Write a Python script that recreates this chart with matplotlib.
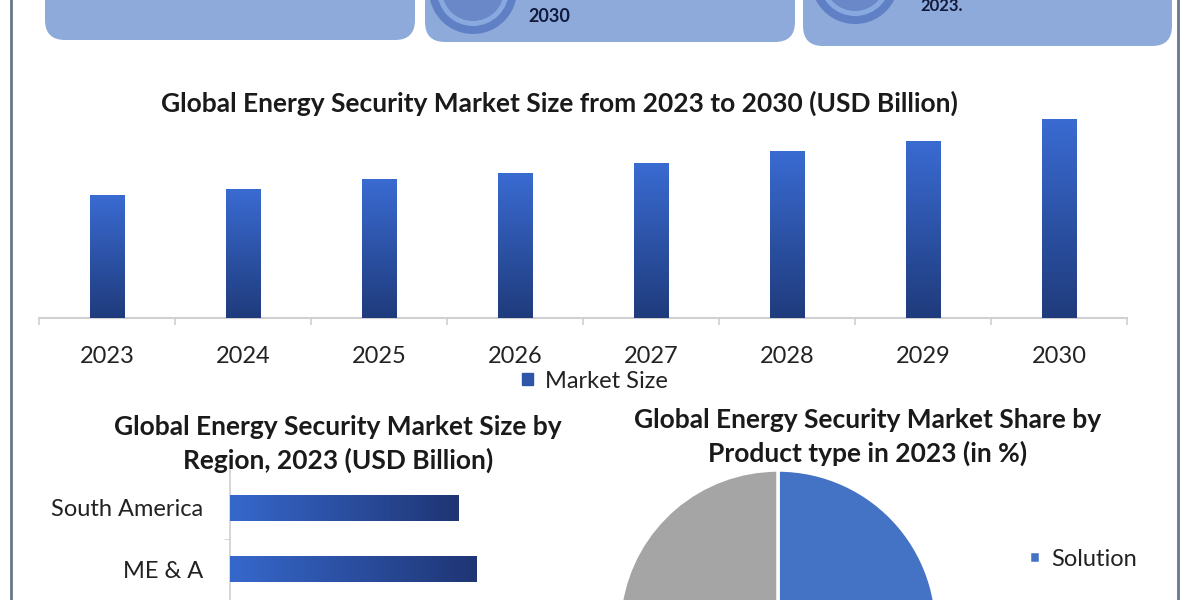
import numpy as np
import matplotlib
matplotlib.use("Agg")
import matplotlib.pyplot as plt
from matplotlib.patches import FancyBboxPatch, Circle, Patch
from matplotlib.colors import LinearSegmentedColormap

plt.rcParams['font.family'] = ['Lato', 'DejaVu Sans']

# ---------------- data ----------------
years = ["2023", "2024", "2025", "2026", "2027", "2028", "2029", "2030"]
market_size = [123, 129, 139, 145, 155, 167, 177, 199]

regions = ["South America", "ME & A"]
region_size = [229, 247]

product_types = ["Solution", "Services"]
product_share = [55, 45]

W, H = 1200, 600
fig = plt.figure(figsize=(12, 6), dpi=100)
fig.patch.set_facecolor("white")

def fx(px):
    return px / W

def fy(py):
    return 1 - py / H

# background overlay in pixel coordinates
bg = fig.add_axes([0, 0, 1, 1], zorder=0)
bg.set_xlim(0, W)
bg.set_ylim(H, 0)
bg.axis("off")

box_col = "#8eaadb"
for (x0, x1, yb) in [(45, 415, 40), (425, 795, 42), (803, 1172, 46)]:
    bg.add_patch(FancyBboxPatch((x0, -60), x1 - x0, yb + 60,
                                boxstyle="round,pad=0,rounding_size=20",
                                fc=box_col, ec="none"))
# concentric circle icons
for (cx, cy) in [(473, -10), (855, -20)]:
    bg.add_patch(Circle((cx, cy), 44, fc="#5f80c4", ec="none"))
    bg.add_patch(Circle((cx, cy), 36, fc="#88a8e0", ec="none"))
    bg.add_patch(Circle((cx, cy), 31, fc="#6a88c8", ec="none"))
bg.text(528, 17, "2030", fontsize=13, color="#111a3a", ha="left", va="center",
        fontweight="bold", family=["Liberation Sans Narrow", "Lato", "DejaVu Sans"])
bg.text(920, 6, "2023.", fontsize=12, color="#111a3a", ha="left", va="center",
        fontweight="bold", family=["Liberation Sans Narrow", "Lato", "DejaVu Sans"])
# frame lines
bg.plot([11, 11], [0, H], color="#66788a", lw=2)
bg.plot([1178, 1178], [0, H], color="#66788a", lw=2)

title_kw = dict(fontsize=19, fontweight="bold", color="#1a1a1a", ha="center", va="center")
bg.text(559, 103, "Global Energy Security Market Size from 2023 to 2030 (USD Billion)", **title_kw)
bg.text(338, 427, "Global Energy Security Market Size by", **title_kw)
bg.text(338, 460, "Region, 2023 (USD Billion)", **title_kw)
bg.text(868, 420, "Global Energy Security Market Share by", **title_kw)
bg.text(868, 453, "Product type in 2023 (in %)", **title_kw)

# ---------------- vertical bar chart ----------------
vcmap = LinearSegmentedColormap.from_list("v", ["#1f3b7c", "#3a6bd2"])
ax1 = fig.add_axes([fx(39), fy(318), fx(1127 - 39), (318 - 100) / H], zorder=2)
ax1.patch.set_alpha(0)
x = np.arange(len(years))
bars = ax1.bar(x, market_size, width=0.257, color="#2f55a8", label="Market Size")
ax1.set_xlim(-0.5, len(years) - 0.5)
ax1.set_ylim(0, 218)
grad = np.linspace(0, 1, 256).reshape(-1, 1)
for b in bars:
    bx, by, bw, bh = b.get_x(), b.get_y(), b.get_width(), b.get_height()
    im = ax1.imshow(grad, cmap=vcmap, origin="lower", aspect="auto",
                    extent=[bx, bx + bw, by, by + bh], zorder=3)
    im.set_clip_path(b)
ax1.set_xlim(-0.5, len(years) - 0.5)
ax1.set_ylim(0, 218)
for s in ["top", "right", "left"]:
    ax1.spines[s].set_visible(False)
ax1.spines["bottom"].set_color("#d0d0d0")
ax1.spines["bottom"].set_linewidth(1.5)
ax1.set_yticks([])
ax1.set_xticks(x)
ax1.set_xticklabels(years, fontsize=17, color="#222222")
ax1.tick_params(axis="x", which="major", length=0, pad=20)
ax1.set_xticks(np.arange(-0.5, len(years), 1.0), minor=True)
ax1.tick_params(axis="x", which="minor", length=5, color="#d0d0d0", width=1.2)
ax1.legend(handles=[Patch(color="#2f55a8", label="Market Size")],
           loc="center", bbox_to_anchor=(fx(595), fy(381)), bbox_transform=fig.transFigure,
           frameon=False, fontsize=17, handlelength=0.45, handleheight=0.45,
           handletextpad=0.5, labelcolor="#222222")

# ---------------- horizontal bar chart ----------------
hcmap = LinearSegmentedColormap.from_list("h", ["#3668cc", "#1f3574"])
ax2 = fig.add_axes([fx(230), fy(600), fx(560 - 230), 130 / H], zorder=2)
ax2.patch.set_alpha(0)
y = np.arange(len(regions))
hbars = ax2.barh(y, region_size, height=0.43, color="#2f55a8")
hgrad = np.linspace(0, 1, 256).reshape(1, -1)
for b in hbars:
    bx, by, bw, bh = b.get_x(), b.get_y(), b.get_width(), b.get_height()
    im = ax2.imshow(hgrad, cmap=hcmap, aspect="auto",
                    extent=[bx, bx + bw, by, by + bh], zorder=3)
    im.set_clip_path(b)
ax2.set_xlim(0, 330)
ax2.set_ylim(1 + 31 / 61, -38 / 61)
for s in ["top", "right", "bottom"]:
    ax2.spines[s].set_visible(False)
ax2.spines["left"].set_color("#d0d0d0")
ax2.spines["left"].set_linewidth(1.2)
ax2.set_xticks([])
ax2.set_yticks(y)
ax2.set_yticklabels(regions, fontsize=17, color="#222222")
ax2.tick_params(axis="y", which="major", length=0, pad=19)
ax2.set_yticks([0.5], minor=True)
ax2.tick_params(axis="y", which="minor", length=4, color="#d0d0d0")

# ---------------- pie chart ----------------
r = 159
ax3 = fig.add_axes([fx(778 - r), fy(629 + r), 2 * r / W, 2 * r / H], zorder=2)
wedges, _ = ax3.pie(product_share, colors=["#4472c4", "#a5a5a5"], startangle=90,
                    counterclock=False, radius=1,
                    wedgeprops=dict(edgecolor="white", linewidth=2.5))
ax3.set_xlim(-1, 1)
ax3.set_ylim(-1, 1)
ax3.set_aspect("equal")
ax3.legend(handles=[wedges[0]], labels=[product_types[0]], loc="center",
           bbox_to_anchor=(fx(1083), fy(559)), bbox_transform=fig.transFigure,
           frameon=False, fontsize=17, handlelength=0.45, handleheight=0.45,
           handletextpad=0.5, labelcolor="#222222")

fig.savefig("out.png", dpi=100, facecolor="white")
